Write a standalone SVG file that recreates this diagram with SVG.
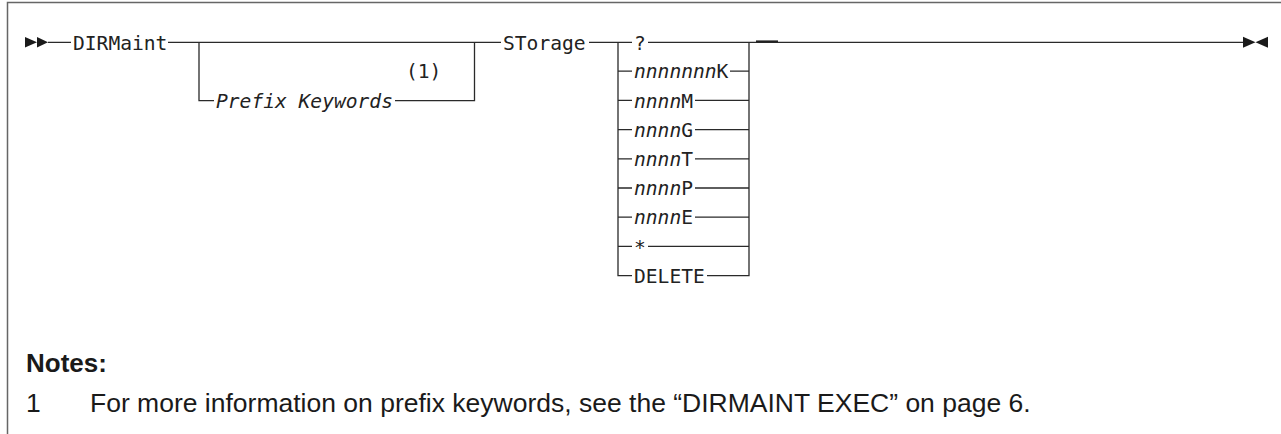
<svg xmlns="http://www.w3.org/2000/svg" width="1281" height="434" viewBox="0 0 1281 434">
<style>
.ln{fill:none;stroke:#2a2a2a;stroke-width:1.3}
.t{font-family:"DejaVu Sans Mono","Liberation Mono",monospace;font-size:19.6px;fill:#222}
.i{font-style:italic}
.n{font-family:"Liberation Sans",Arial,sans-serif;fill:#1a1a1a;font-size:26.5px}
.b{font-weight:bold;font-size:26px}
.ar{fill:#1a1a1a}
</style>
<rect width="1281" height="434" fill="#fff"/>
<path d="M7.5,434 V2.5 H1281" fill="none" stroke="#666" stroke-width="1.5"/>
<g id="connectors">
<path class="ln" d="M48,42.3 H71 M168,42.3 H501 M589,42.3 H632 M648,42.3 H1243"/>
<path class="ln" d="M199,42.3 V100.7 H214 M395,100.7 H474.5 V42.3"/>
<path class="ln" d="M618,42.3 V275.6 H632 M749,42.3 V275.6 H707"/>
<path class="ln" d="M618,71.2 H632 M730,71.2 H749 M618,100.4 H632 M695,100.4 H749 M618,129.6 H632 M695,129.6 H749 M618,158.8 H632 M695,158.8 H749 M618,188 H632 M695,188 H749 M618,217.2 H632 M695,217.2 H749 M618,246.4 H632 M648,246.4 H749"/>
<path d="M756,41.4 H778" stroke="#222" stroke-width="2"/>
<polygon class="ar" points="25,37 37,42.3 25,47.5"/>
<polygon class="ar" points="37,37 48,42.3 37,47.5"/>
<polygon class="ar" points="1243,36.8 1255.5,42.3 1243,47.8"/>
<polygon class="ar" points="1268,36.8 1255.5,42.3 1268,47.8"/>
</g>
<g id="dirmaint"><text class="t" x="73" y="49.5">DIRMaint</text></g>
<g id="prefix"><text class="t i" x="216" y="108">Prefix Keywords</text><text class="t" x="406" y="78">(1)</text></g>
<g id="storage"><text class="t" x="503" y="49.5">STorage</text></g>
<g id="opt-q"><text class="t" x="634" y="49.5">?</text></g>
<g id="opt-k"><text class="t" x="634" y="78.4"><tspan class="i">nnnnnnn</tspan>K</text></g>
<g id="opt-m"><text class="t" x="634" y="107.6"><tspan class="i">nnnn</tspan>M</text></g>
<g id="opt-g"><text class="t" x="634" y="136.8"><tspan class="i">nnnn</tspan>G</text></g>
<g id="opt-t"><text class="t" x="634" y="166"><tspan class="i">nnnn</tspan>T</text></g>
<g id="opt-p"><text class="t" x="634" y="195.2"><tspan class="i">nnnn</tspan>P</text></g>
<g id="opt-e"><text class="t" x="634" y="224.4"><tspan class="i">nnnn</tspan>E</text></g>
<g id="opt-star"><text class="t" x="634" y="253.6">*</text></g>
<g id="opt-delete"><text class="t" x="634" y="282.8">DELETE</text></g>
<g id="notes">
<text class="n b" x="26" y="372">Notes:</text>
<text class="n" x="26" y="412">1</text>
<text class="n" x="90" y="412">For more information on prefix keywords, see the “DIRMAINT EXEC” on page 6.</text>
</g>
</svg>
